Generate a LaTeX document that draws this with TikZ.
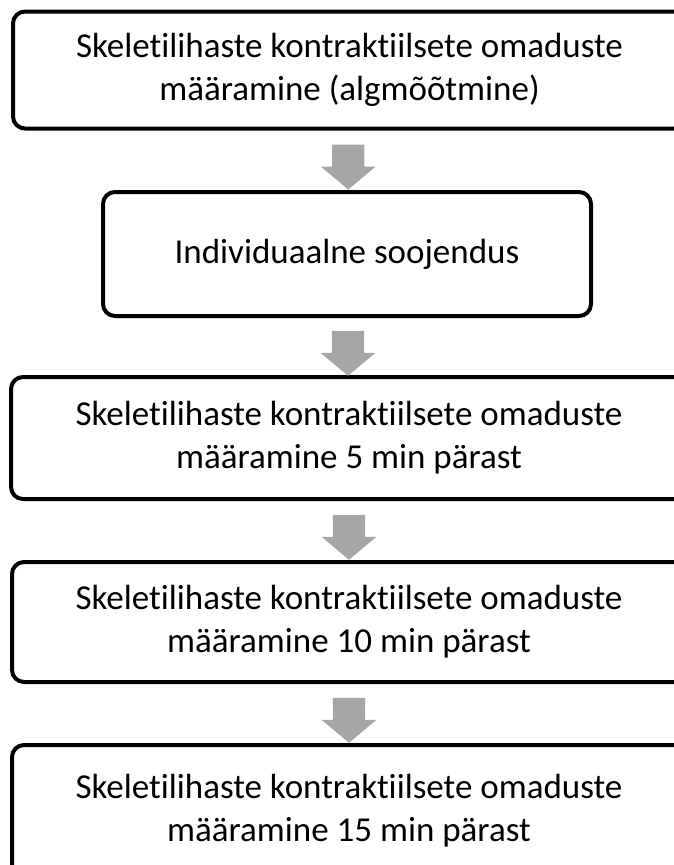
\documentclass[tikz,border=0pt]{standalone}
\usepackage{fontspec}
\setmainfont{Carlito}[Ligatures=NoCommon]
\usetikzlibrary{shapes.arrows,calc}

\tikzset{
  stepbox/.style={draw=black, line width=4pt, rounded corners=12pt, fill=white,
    align=center, inner sep=0pt, font=\fontsize{35}{43}\selectfont},
  downarrow/.style={single arrow, fill=black!35, draw=none, rotate=-90,
    inner xsep=0pt, inner ysep=16pt, minimum height=45pt,
    single arrow head extend=11pt, single arrow tip angle=100}
}

\begin{document}
\begin{tikzpicture}[x=1pt, y=-1pt]
\useasboundingbox (0,0) rectangle (674,865);

% the five steps
\node[stepbox, minimum width=673pt, minimum height=117pt] (alg) at (349.5, 70) {Skeletilihaste kontraktiilsete omaduste\\määramine (algmõõtmine)};
\node[stepbox, minimum width=488pt, minimum height=124pt] (soo) at (347, 254) {Individuaalne soojendus};
\node[stepbox, minimum width=676pt, minimum height=122pt] (m5) at (349, 438) {Skeletilihaste kontraktiilsete omaduste\\määramine 5 min pärast};
\node[stepbox, minimum width=674pt, minimum height=120pt] (m10) at (349, 622) {Skeletilihaste kontraktiilsete omaduste\\määramine 10 min pärast};
\node[stepbox, minimum width=674pt, minimum height=132pt] (m15) at (349, 811) {Skeletilihaste kontraktiilsete omaduste\\määramine 15 min pärast};

% grey arrows between the steps
\node[downarrow] (a1) at ($(alg.south)!0.5!(soo.north)$) {};
\node[downarrow] (a2) at ($(soo.south)!0.5!(m5.north)$) {};
\node[downarrow] (a3) at ($(m5.south)!0.5!(m10.north)$) {};
\node[downarrow] (a4) at ($(m10.south)!0.5!(m15.north)$) {};
\end{tikzpicture}
\end{document}
